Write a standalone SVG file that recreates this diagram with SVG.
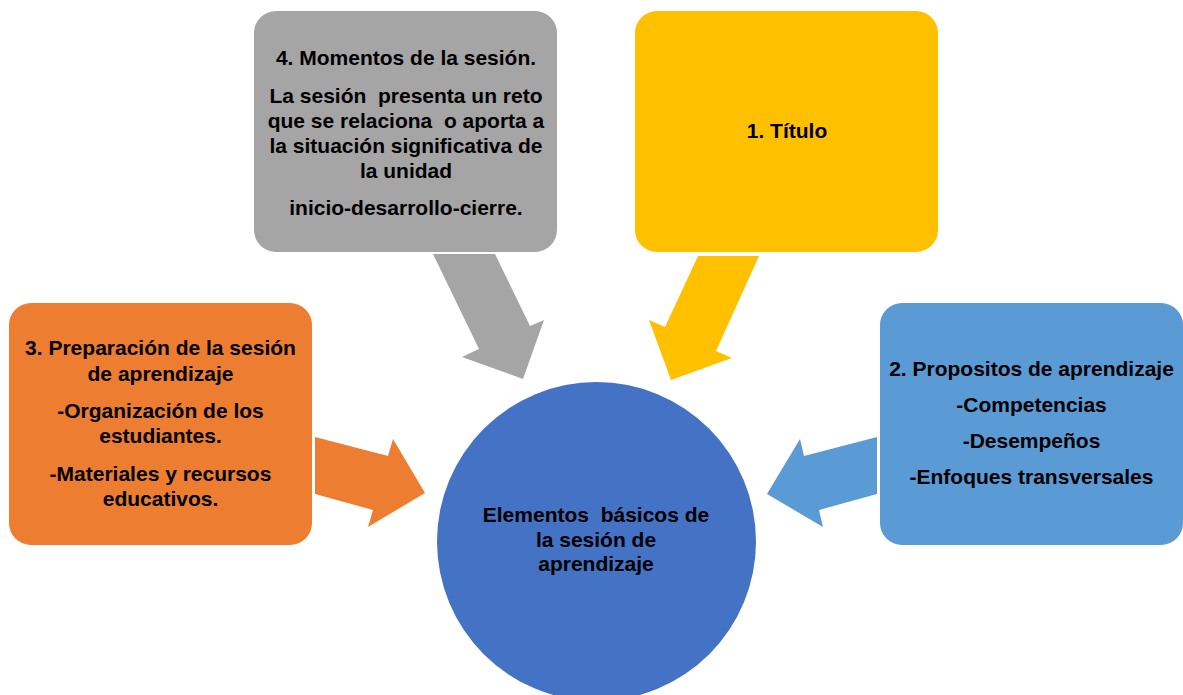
<svg xmlns="http://www.w3.org/2000/svg" width="1183" height="695" viewBox="0 0 1183 695">
<style>
.t{font-family:"Liberation Sans",Arial,sans-serif;font-weight:bold;font-size:21px;fill:#000;text-anchor:middle}
</style>
<rect width="1183" height="695" fill="#fff"/>
<g id="connectors">
<polygon fill="#A5A5A5" points="433,254 495,254 530,326 544,320 523,379 462,357 479,349"/>
<polygon fill="#FFC000" points="698,256 759,256 716,351 732,358 671,380 649,320 665,327"/>
<polygon fill="#ED7D31" points="315,437 388,456 393,439 425,493 368,527 373,510 315,494"/>
<polygon fill="#5B9BD5" points="877,437 804,456 800,439 767,494 823,527 819,510 877,494"/>
</g>
<g id="node-momentos">
<rect x="254" y="11" width="303" height="241" rx="22" fill="#A5A5A5"/>
<text class="t" x="406" y="65">4. Momentos de la sesión.</text>
<text class="t" x="406" y="103" xml:space="preserve">La sesión  presenta un reto</text>
<text class="t" x="406" y="128" xml:space="preserve">que se relaciona  o aporta a</text>
<text class="t" x="406" y="153">la situación significativa de</text>
<text class="t" x="406" y="178">la unidad</text>
<text class="t" x="406" y="215">inicio-desarrollo-cierre.</text>
</g>
<g id="node-titulo">
<rect x="635" y="11" width="303" height="241" rx="22" fill="#FFC000"/>
<text class="t" x="787" y="138">1. Título</text>
</g>
<g id="node-preparacion">
<rect x="9" y="303" width="303" height="242" rx="22" fill="#ED7D31"/>
<text class="t" x="160.5" y="355">3. Preparación de la sesión</text>
<text class="t" x="160.5" y="381">de aprendizaje</text>
<text class="t" x="160.5" y="418">-Organización de los</text>
<text class="t" x="160.5" y="443">estudiantes.</text>
<text class="t" x="160.5" y="481">-Materiales y recursos</text>
<text class="t" x="160.5" y="506">educativos.</text>
</g>
<g id="node-propositos">
<rect x="880" y="303" width="303" height="242" rx="22" fill="#5B9BD5"/>
<text class="t" x="1031.5" y="376">2. Propositos de aprendizaje</text>
<text class="t" x="1031.5" y="412">-Competencias</text>
<text class="t" x="1031.5" y="448">-Desempeños</text>
<text class="t" x="1031.5" y="484">-Enfoques transversales</text>
</g>
<g id="node-centro">
<circle cx="596.5" cy="541.5" r="159.5" fill="#4472C4"/>
<text class="t" x="596" y="522" xml:space="preserve">Elementos  básicos de</text>
<text class="t" x="596" y="547">la sesión de</text>
<text class="t" x="596" y="571">aprendizaje</text>
</g>
</svg>
